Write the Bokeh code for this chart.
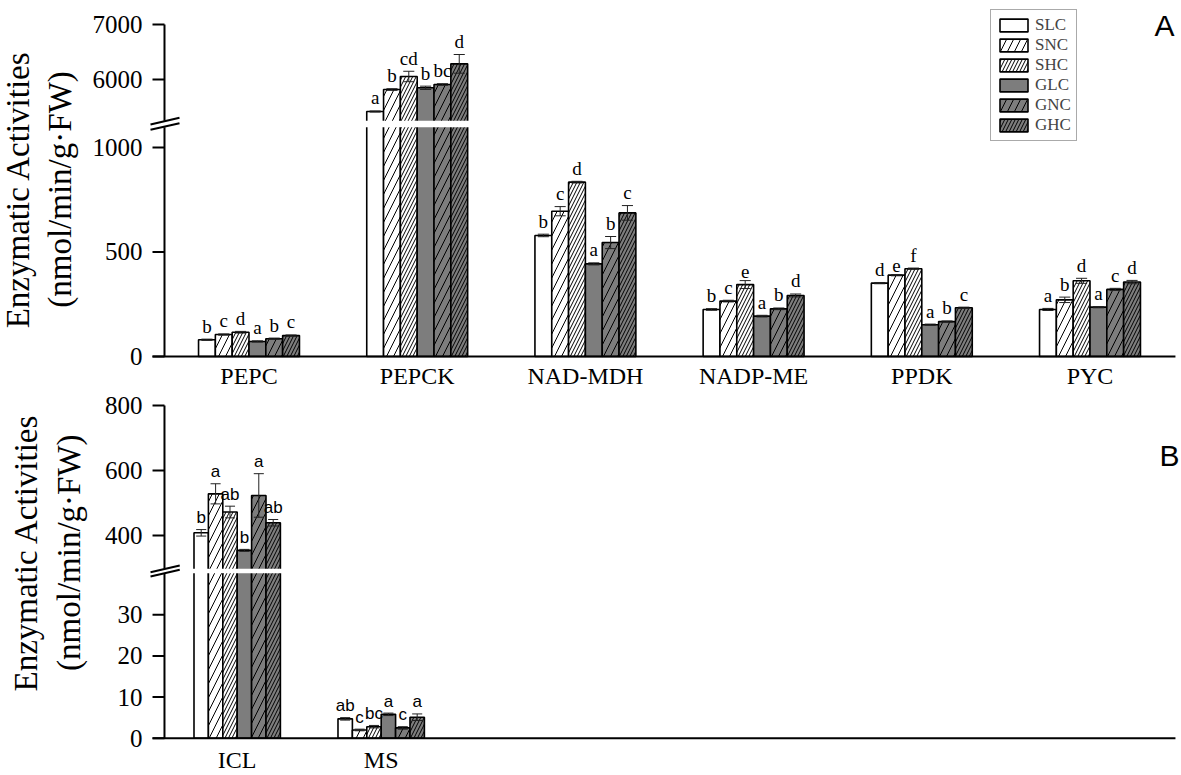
import numpy as np
from bokeh.plotting import figure
from bokeh.models import Range1d, Legend, LegendItem
from bokeh.layouts import column
from bokeh.embed import file_html
from bokeh.resources import INLINE
from bokeh.core.properties import value

treatments = ["SLC", "SNC", "SHC", "GLC", "GNC", "GHC"]
fill_colors = ["white", "white", "white", "#7d7d7d", "#7d7d7d", "#7d7d7d"]
hatch_patterns = [None, "/", "/", None, "/", "/"]
hatch_scales = [12, 14, 7, 12, 14, 7]

# ---------------- Panel A data ----------------
enzymes_a = ["PEPC", "PEPCK", "NAD-MDH", "NADP-ME", "PPDK", "PYC"]
a_slc = [80, 5418, 579, 225, 351, 225]
a_snc = [105, 5818, 695, 265, 389, 271]
a_shc = [116, 6055, 834, 344, 420, 362]
a_glc = [72, 5849, 443, 193, 152, 236]
a_gnc = [85, 5909, 545, 228, 167, 321]
a_ghc = [100, 6285, 687, 292, 233, 356]
a_slc_err = [3, 10, 6, 4, 3, 5]
a_snc_err = [3, 15, 22, 4, 3, 13]
a_shc_err = [4, 95, 4, 19, 3, 12]
a_glc_err = [3, 30, 5, 4, 3, 3]
a_gnc_err = [3, 15, 29, 4, 3, 5]
a_ghc_err = [3, 170, 35, 7, 3, 8]
a_slc_let = ["b", "a", "b", "b", "d", "a"]
a_snc_let = ["c", "b", "c", "c", "e", "b"]
a_shc_let = ["d", "cd", "d", "e", "f", "d"]
a_glc_let = ["a", "b", "a", "a", "a", "a"]
a_gnc_let = ["b", "bc", "b", "b", "b", "c"]
a_ghc_let = ["c", "d", "c", "d", "c", "d"]
a_ticks = [0, 500, 1000, 6000, 7000]

# ---------------- Panel B data ----------------
enzymes_b = ["ICL", "MS"]
b_slc = [408, 4.7]
b_snc = [528, 2.0]
b_shc = [472, 2.8]
b_glc = [354, 5.8]
b_gnc = [523, 2.5]
b_ghc = [439, 5.1]
b_slc_err = [10, 0.3]
b_snc_err = [31, 0.2]
b_shc_err = [18, 0.3]
b_glc_err = [3, 0.3]
b_gnc_err = [67, 0.3]
b_ghc_err = [10, 0.8]
b_slc_let = ["b", "ab"]
b_snc_let = ["a", "c"]
b_shc_let = ["ab", "bc"]
b_glc_let = ["b", "a"]
b_gnc_let = ["a", "c"]
b_ghc_let = ["ab", "a"]
b_ticks = [0, 10, 20, 30, 400, 600, 800]

y_title_1 = "Enzymatic Activities"
y_title_2 = "(nmol/min/g\u00b7FW)"


def ya(v):
    # broken axis: 0-1100 linear, upper segment compressed around 6000-7000
    v = np.asarray(v, dtype=float)
    return np.where(v <= 1100, v, 1325 + (v - 6000) * 0.263)


def yb(v):
    # broken axis: 0-40 linear (x10), upper segment compressed around 400-800
    v = np.asarray(v, dtype=float)
    return np.where(v <= 40, 10 * v, 493 + (v - 400) * 0.79)


SERIF = "Liberation Serif"
SANS = "Liberation Sans"


def make_panel(height, x_range, y_range, cats, ticks, yfun, vals, errs, lets,
               tick_x0, spine_x, base_x1, tick_lab_x, band, marks, tick_top,
               letter_font, letter_size, letter_off, cap_w, cat_y,
               panel_label, label_pos, title_x, title_y, legend_loc=None):
    p = figure(width=1181, height=height, x_range=x_range, y_range=y_range,
               output_backend="svg", toolbar_location=None,
               x_axis_location=None, y_axis_location=None,
               min_border_left=0, min_border_right=0,
               min_border_top=0, min_border_bottom=0)
    p.outline_line_color = None
    p.xgrid.visible = False
    p.ygrid.visible = False
    p.background_fill_color = "white"
    p.border_fill_color = "white"

    n = len(cats)
    idx = np.arange(n)
    renderers = []
    for j, t in enumerate(treatments):
        x = idx + (j - 2.5) * 0.1
        r = p.vbar(x=x, top=yfun(vals[j]), bottom=0, width=0.1,
                   fill_color=fill_colors[j], line_color="black", line_width=1.6,
                   hatch_pattern=hatch_patterns[j], hatch_scale=hatch_scales[j],
                   hatch_weight=1, hatch_color="black")
        renderers.append(r)

    # white break band across the bars
    p.quad(left=spine_x, right=x_range.end, bottom=band[0], top=band[1],
           fill_color="white", line_color=None)

    for j, t in enumerate(treatments):
        x = idx + (j - 2.5) * 0.1
        v = np.asarray(vals[j], dtype=float)
        e = np.asarray(errs[j], dtype=float)
        hi = yfun(v + e)
        lo = yfun(v - e)
        p.segment(x0=x, y0=lo, x1=x, y1=hi, line_color="#222222", line_width=1)
        p.segment(x0=x - cap_w, y0=hi, x1=x + cap_w, y1=hi, line_color="#222222", line_width=1)
        p.segment(x0=x - cap_w, y0=lo, x1=x + cap_w, y1=lo, line_color="#222222", line_width=1)
        p.text(x=x, y=hi + letter_off, text=lets[j], text_align="center",
               text_baseline="bottom", text_font=value(letter_font),
               text_font_size=letter_size, text_color="black")

    # x baseline (category axis) and category labels
    p.segment(x0=[tick_x0], y0=[0], x1=[base_x1], y1=[0],
              line_color="black", line_width=2)
    p.text(x=idx, y=[cat_y] * n, text=cats, text_align="center",
           text_baseline="middle", text_font=value(SERIF),
           text_font_size="24px", text_color="black")

    # y spine (broken), ticks, tick labels, break marks
    p.segment(x0=[spine_x, spine_x], y0=[0, band[1]], x1=[spine_x, spine_x],
              y1=[band[0], tick_top], line_color="black", line_width=2)
    tick_d = yfun(ticks)
    p.segment(x0=[tick_x0] * len(tick_d), y0=tick_d,
              x1=[spine_x] * len(tick_d), y1=tick_d, line_color="black", line_width=2)
    p.text(x=[tick_lab_x] * len(tick_d), y=tick_d, text=[str(t) for t in ticks],
           text_align="right", text_baseline="middle", text_font=value(SERIF),
           text_font_size="25px", text_color="black")
    p.segment(x0=marks[0], y0=marks[1], x1=marks[2], y1=marks[3],
              line_color="black", line_width=2)

    # y axis title (two rotated lines)
    p.text(x=title_x, y=[title_y, title_y], text=[y_title_1, y_title_2],
           angle=np.pi / 2, text_align="center", text_baseline="middle",
           text_font=value(SERIF), text_font_size="33px", text_color="black")

    p.text(x=[label_pos[0]], y=[label_pos[1]], text=[panel_label], text_align="center",
           text_baseline="alphabetic", text_font=value(SANS), text_font_size="30px",
           text_color="black")

    if legend_loc is not None:
        items = [LegendItem(label=t, renderers=[r]) for t, r in zip(treatments, renderers)]
        lg = Legend(items=items, location=legend_loc, orientation="vertical",
                    border_line_color="#555555", border_line_width=1,
                    background_fill_color="white", background_fill_alpha=1,
                    label_text_font=SERIF, label_text_font_size="17px",
                    glyph_width=35, glyph_height=16, label_height=16,
                    spacing=0, padding=5, margin=0, label_standoff=4)
        p.add_layout(lg)
    return p


vals_a = [a_slc, a_snc, a_shc, a_glc, a_gnc, a_ghc]
errs_a = [a_slc_err, a_snc_err, a_shc_err, a_glc_err, a_gnc_err, a_ghc_err]
lets_a = [a_slc_let, a_snc_let, a_shc_let, a_glc_let, a_gnc_let, a_ghc_let]
vals_b = [b_slc, b_snc, b_shc, b_glc, b_gnc, b_ghc]
errs_b = [b_slc_err, b_snc_err, b_shc_err, b_glc_err, b_gnc_err, b_ghc_err]
lets_b = [b_slc_let, b_snc_let, b_shc_let, b_glc_let, b_gnc_let, b_ghc_let]

pA = make_panel(391, Range1d(-1.4774, 5.544), Range1d(-167.5, 1703), enzymes_a,
                a_ticks, ya, vals_a, errs_a, lets_a,
                -0.5737, -0.5024, 5.508, -0.6332, (1097, 1128),
                ([-0.5856, -0.5856], [1110, 1085], [-0.4132, -0.4132], [1142, 1116]),
                1588, SERIF, "19px", 12, 0.033, -91, "A", (5.443, 1584),
                [-1.3763, -1.1207], 799, legend_loc=(990, 250))

pB = make_panel(384, Range1d(-1.6438, 6.558), Range1d(-90.7, 842.9), enzymes_b,
                b_ticks, yb, vals_b, errs_b, lets_b,
                -0.588, -0.505, 6.516, -0.6576, (401, 412),
                ([-0.602, -0.602], [403.6, 393.1], [-0.399, -0.399], [419.9, 409.4]),
                809, SANS, "17px", 6, 0.035, -51.8, "B", (6.474, 687),
                [-1.4701, -1.1715], 451)

layout = column(pA, pB, spacing=0)
open("out.html", "w").write(file_html(layout, INLINE))
